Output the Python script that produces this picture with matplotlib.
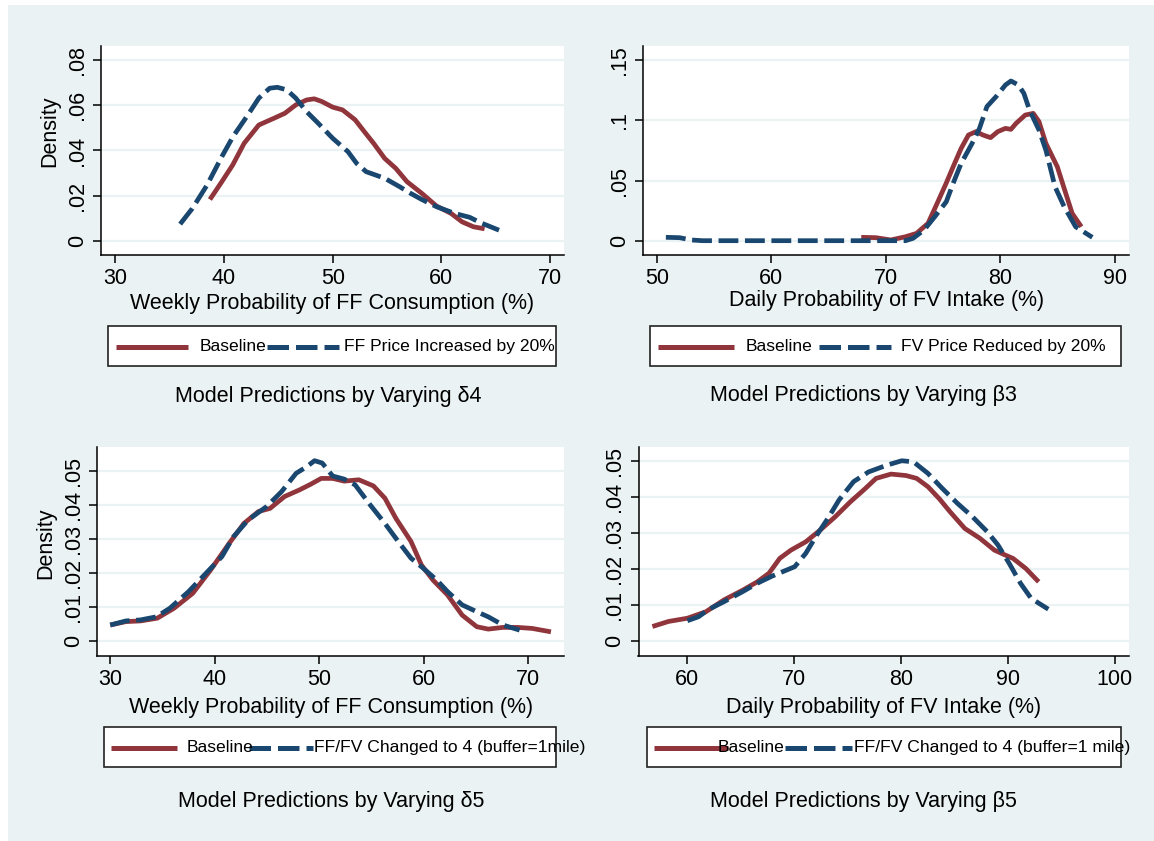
import numpy as np
import matplotlib.pyplot as plt
from matplotlib.patches import Rectangle
from matplotlib.lines import Line2D

plt.rcParams['font.family'] = ['Liberation Sans', 'DejaVu Sans']

W, H = 1154, 841
MAROON = '#90353B'
NAVY = '#1A476F'
BG = '#EAF2F3'

# --- density curves (x in %, y density) ---
# delta4: fast food price
d4_base_x = [38.7, 39.8, 40.8, 41.85, 43.2, 44.6, 45.6, 46.6, 47.6, 48.3, 49.0, 50.0, 50.9,
             52.06, 52.9, 53.76, 54.78, 55.8, 56.83, 58.2, 59.55, 60.9, 61.9, 62.95, 63.97]
d4_base_y = [0.0183, 0.0262, 0.0336, 0.0432, 0.0513, 0.0543, 0.0565, 0.0602, 0.0624, 0.0629,
             0.0617, 0.0592, 0.058, 0.0536, 0.0484, 0.0432, 0.0365, 0.0321, 0.0262, 0.021,
             0.0154, 0.0121, 0.0084, 0.0062, 0.0053]
d4_alt_x = [35.96, 37.08, 38.44, 39.8, 40.83, 42.2, 43.2, 44.2, 44.9, 45.76, 46.6, 47.6, 48.66,
            50.0, 51.4, 52.2, 53.08, 54.78, 56.14, 57.17, 58.19, 59.55, 61.25, 62.6, 63.6, 65.3]
d4_alt_y = [0.0074, 0.0143, 0.0247, 0.0373, 0.0462, 0.0558, 0.0632, 0.0676, 0.068, 0.0669,
            0.0632, 0.0572, 0.0521, 0.0454, 0.0395, 0.0343, 0.0306, 0.0277, 0.024, 0.021,
            0.0183, 0.0151, 0.0121, 0.0104, 0.008, 0.0047]

# beta3: fruit/vegetable price
b3_base_x = [67.87, 69.16, 70.45, 71.74, 72.7, 73.7, 74.5, 75.3, 75.9, 76.6, 77.24, 77.9, 78.5,
             79.17, 79.8, 80.47, 80.95, 81.4, 82.2, 82.9, 83.4, 84.0, 85.0, 85.6, 86.3, 87.1]
b3_base_y = [0.0028, 0.0025, 0.0006, 0.0033, 0.0061, 0.0144, 0.031, 0.048, 0.0615, 0.0768,
             0.0879, 0.0907, 0.0879, 0.0857, 0.0907, 0.0934, 0.0926, 0.0976, 0.1045, 0.1059,
             0.099, 0.081, 0.0615, 0.0435, 0.0227, 0.0116]
b3_alt_x = [50.8, 52.0, 53.0, 54.0, 60.0, 66.0, 71.74, 72.4, 73.36, 74.3, 75.3, 75.9, 76.6,
            77.56, 78.2, 78.85, 79.65, 80.47, 80.95, 81.6, 82.08, 82.57, 83.4, 84.0, 84.8,
            85.6, 86.6, 88.06]
b3_alt_y = [0.0028, 0.0025, 0.0006, 0.0, 0.0, 0.0, 0.0, 0.002, 0.0089, 0.02, 0.0324, 0.0477,
            0.0643, 0.081, 0.0934, 0.1115, 0.1198, 0.1295, 0.1328, 0.1295, 0.1225, 0.1087,
            0.092, 0.0754, 0.0449, 0.0283, 0.0116, 0.0028]

# delta5: FF/FV ratio
d5_base_x = [30.0, 31.5, 32.9, 34.5, 36.1, 37.9, 39.6, 41.4, 42.8, 44.2, 45.3, 46.7, 48.1, 49.2,
             50.2, 51.3, 52.4, 53.8, 55.2, 56.3, 57.35, 58.8, 59.8, 60.9, 62.3, 63.7, 65.1,
             66.2, 67.6, 69.0, 70.4, 72.2]
d5_base_y = [0.0048, 0.0058, 0.006, 0.0068, 0.0097, 0.0141, 0.0209, 0.0288, 0.0346, 0.0381,
             0.039, 0.0425, 0.0444, 0.0461, 0.0478, 0.0478, 0.047, 0.0474, 0.0456, 0.042,
             0.0361, 0.0293, 0.0224, 0.018, 0.0136, 0.0077, 0.0043, 0.0036, 0.0041, 0.0041,
             0.0038, 0.0028]
d5_alt_x = [30.0, 31.5, 32.9, 34.4, 35.7, 37.5, 39.3, 40.7, 41.8, 43.2, 44.95, 46.4, 47.8, 48.85,
            49.56, 50.3, 51.3, 52.4, 53.45, 54.9, 56.3, 57.7, 58.8, 59.8, 61.26, 62.3, 63.7,
            65.1, 66.2, 67.6, 69.2]
d5_alt_y = [0.0048, 0.006, 0.0063, 0.0072, 0.0097, 0.0146, 0.0204, 0.0249, 0.0307, 0.0356,
            0.0395, 0.0439, 0.0493, 0.0513, 0.053, 0.0523, 0.0485, 0.0476, 0.0459, 0.04,
            0.0346, 0.0288, 0.0244, 0.0219, 0.018, 0.0146, 0.0107, 0.0087, 0.0072, 0.0048,
            0.0033]

# beta5: FF/FV ratio
b5_base_x = [56.8, 58.3, 60.07, 61.8, 63.5, 65.25, 66.6, 67.7, 68.7, 69.75, 71.13, 72.5, 73.9,
             75.3, 76.7, 77.7, 79.1, 80.5, 81.5, 82.55, 83.6, 84.6, 86.0, 87.4, 88.76, 89.8,
             90.5, 91.7, 92.9]
b5_base_y = [0.0041, 0.0055, 0.0064, 0.0082, 0.0115, 0.0142, 0.0165, 0.0189, 0.023, 0.0253,
             0.0276, 0.0309, 0.0346, 0.0387, 0.0424, 0.0452, 0.0464, 0.046, 0.0452, 0.0429,
             0.0396, 0.036, 0.0313, 0.0286, 0.0253, 0.0239, 0.023, 0.0202, 0.0165]
b5_alt_x = [60.07, 61.1, 62.1, 63.5, 65.25, 66.6, 68.0, 70.1, 71.13, 72.17, 73.2, 74.24, 75.6,
            77.0, 78.74, 80.1, 81.2, 82.55, 83.9, 85.3, 86.7, 88.1, 89.1, 90.15, 91.2, 92.2,
            93.8]
b5_alt_y = [0.0057, 0.0068, 0.0089, 0.011, 0.0138, 0.0161, 0.0181, 0.0207, 0.0244, 0.0295,
            0.0341, 0.0392, 0.0443, 0.047, 0.0489, 0.0501, 0.0498, 0.0466, 0.0424, 0.0383,
            0.0346, 0.0304, 0.0267, 0.0216, 0.0161, 0.0119, 0.0089]

ff_xlabel = 'Weekly Probability of FF Consumption (%)'
fv_xlabel = 'Daily Probability of FV Intake (%)'


def frac(x0, y0, x1, y1):
    # pixel box (from top-left) -> figure fraction [left, bottom, width, height]
    return [x0 / W, 1 - y1 / H, (x1 - x0) / W, (y1 - y0) / H]


fig = plt.figure(figsize=(W / 100, H / 100), dpi=100)
fig.patch.set_facecolor('white')
fig.add_artist(Rectangle((8 / W, 0), 1 - 8 / W, 1 - 5 / H, transform=fig.transFigure,
                         facecolor=BG, edgecolor='none', zorder=-10))


def panel(box, xlim, ylim, xticks, yticks, yticklabels, xlabel, xlab_y,
          base, alt, ylab_xy=None):
    ax = fig.add_axes(frac(*box))
    ax.set_facecolor('white')
    ax.set_xlim(xlim)
    ax.set_ylim(ylim)
    for s in ['top', 'right']:
        ax.spines[s].set_visible(False)
    for s in ['left', 'bottom']:
        ax.spines[s].set_linewidth(1.1)
        ax.spines[s].set_color('black')
    ax.set_xticks(xticks)
    ax.set_yticks(yticks, yticklabels, rotation=90, va='center')
    ax.tick_params(length=6, width=1.1, labelsize=15.5, pad=3.5)
    ax.yaxis.grid(True, color=BG, lw=1.6)
    ax.set_axisbelow(True)

    ax.plot(base[0], base[1], color=MAROON, lw=3.4, solid_capstyle='butt',
            solid_joinstyle='round')
    ax.plot(alt[0], alt[1], color=NAVY, lw=3.4, linestyle=(0, (4.2, 1.4)),
            dash_capstyle='butt', dash_joinstyle='round')

    x0, y0, x1, y1 = box
    ax.set_xlabel(xlabel, fontsize=15.5, va='center')
    ax.xaxis.set_label_coords(0.5, (y1 - xlab_y) / (y1 - y0))
    if ylab_xy is not None:
        ax.set_ylabel('Density', fontsize=15.5, va='center')
        ax.yaxis.set_label_coords((ylab_xy[0] - x0) / (x1 - x0),
                                  (y1 - ylab_xy[1]) / (y1 - y0))
    return ax


def legend_box(box, red, blue, t1x, t2x, label2, ty):
    x0, y0, x1, y1 = box
    fig.add_artist(Rectangle((x0 / W, 1 - y1 / H), (x1 - x0) / W, (y1 - y0) / H,
                             transform=fig.transFigure, facecolor='white',
                             edgecolor='#222222', lw=1.2, zorder=1))
    ly = 1 - ty / H
    fig.add_artist(Line2D([red[0] / W, red[1] / W], [ly, ly], transform=fig.transFigure,
                          color=MAROON, lw=3.6, solid_capstyle='butt', zorder=2))
    fig.add_artist(Line2D([blue[0] / W, blue[1] / W], [ly, ly], transform=fig.transFigure,
                          color=NAVY, lw=3.6, linestyle=(0, (4.3, 1.4)),
                          dash_capstyle='butt', zorder=2))
    fig.text(t1x / W, ly, 'Baseline', fontsize=12.6, va='center', ha='left', zorder=3)
    fig.text(t2x / W, ly, label2, fontsize=12.6, va='center', ha='left', zorder=3)


# top-left: delta4
panel((101, 46, 564, 255), (28.68, 71.28), (-0.0063, 0.0863), [30, 40, 50, 60, 70],
      [0, 0.02, 0.04, 0.06, 0.08], ['0', '.02', '.04', '.06', '.08'],
      ff_xlabel, 304, (d4_base_x, d4_base_y), (d4_alt_x, d4_alt_y), ylab_xy=(49.5, 131))
legend_box((108.3, 325.5, 555.7, 365.8), (116, 188), (267, 339), 200, 344,
           'FF Price Increased by 20%', 346.5)
fig.text(328.5 / W, 1 - 397 / H, 'Model Predictions by Varying δ4', fontsize=15.5,
         ha='center', va='center')

# top-right: beta3
panel((643, 46, 1129.4, 255), (48.8, 91.3), (-0.0119, 0.1619), [50, 60, 70, 80, 90],
      [0, 0.05, 0.1, 0.15], ['0', '.05', '.1', '.15'],
      fv_xlabel, 301, (b3_base_x, b3_base_y), (b3_alt_x, b3_alt_y))
legend_box((650.3, 325.5, 1120.9, 365.8), (657.7, 733.5), (818.6, 890.8), 745.7, 901,
           'FV Price Reduced by 20%', 346.5)
fig.text(863 / W, 1 - 395 / H, 'Model Predictions by Varying β3', fontsize=15.5,
         ha='center', va='center')

# bottom-left: delta5
panel((97.3, 446.7, 564.2, 655.7), (28.76, 73.47), (-0.0042, 0.0571), [30, 40, 50, 60, 70],
      [0, 0.01, 0.02, 0.03, 0.04, 0.05], ['0', '.01', '.02', '.03', '.04', '.05'],
      ff_xlabel, 707, (d5_base_x, d5_base_y), (d5_alt_x, d5_alt_y), ylab_xy=(46, 543))
legend_box((104.3, 726.7, 555.7, 766.7), (111, 176.8), (248.6, 312.6), 186.8, 314.5,
           'FF/FV Changed to 4 (buffer=1mile)', 747.5)
fig.text(331 / W, 1 - 801.7 / H, 'Model Predictions by Varying δ5', fontsize=15.5,
         ha='center', va='center')

# bottom-right: beta5
panel((638.5, 446.7, 1129.4, 655.7), (55.5, 101.38), (-0.004, 0.054), [60, 70, 80, 90, 100],
      [0, 0.01, 0.02, 0.03, 0.04, 0.05], ['0', '.01', '.02', '.03', '.04', '.05'],
      fv_xlabel, 707, (b5_base_x, b5_base_y), (b5_alt_x, b5_alt_y))
legend_box((646.6, 726.7, 1120.9, 766.7), (654, 728), (785.3, 852), 717.6, 853.8,
           'FF/FV Changed to 4 (buffer=1 mile)', 747.5)
fig.text(863 / W, 1 - 801.7 / H, 'Model Predictions by Varying β5', fontsize=15.5,
         ha='center', va='center')

fig.savefig('out.png', dpi=100)
